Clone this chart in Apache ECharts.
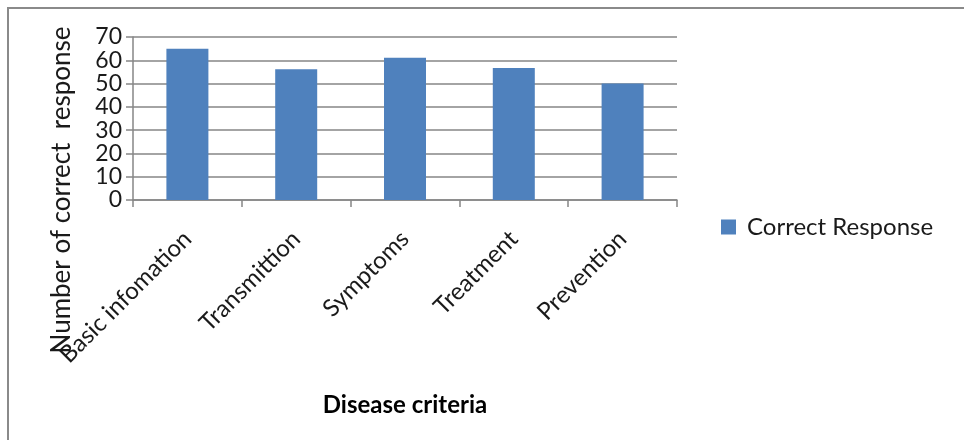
<!DOCTYPE html>
<html>
<head>
<meta charset="utf-8">
<script src="https://cdn.jsdelivr.net/npm/echarts@6/dist/echarts.min.js"></script>
<style>
  html, body { margin: 0; padding: 0; background: #ffffff; }
  #chart { width: 964px; height: 440px; }
</style>
</head>
<body>
<div id="chart"></div>
<script>
// Disease criteria and the number of correct responses for each
const categories = ['Basic infomation', 'Transmittion', 'Symptoms', 'Treatment', 'Prevention'];
const correctResponse = [65, 56.2, 61.1, 56.7, 50];
const seriesName = 'Correct Response';
const yTicks = { min: 0, max: 70, interval: 10 };

const FONT = 'Lato, "Open Sans", sans-serif';
const AXIS_GRAY = '#868686';

const chart = echarts.init(document.getElementById('chart'), null, { renderer: 'canvas' });

chart.setOption({
  backgroundColor: '#ffffff',
  animation: false,
  grid: { left: 133, right: 287, top: 37, bottom: 240, containLabel: false },
  legend: {
    data: [seriesName],
    left: 716,
    top: 210,
    icon: 'rect',
    itemWidth: 15,
    itemHeight: 15,
    itemGap: 10,
    textStyle: { fontFamily: FONT, fontSize: 24, color: '#1a1a1a', padding: [0, 0, 0, 6] }
  },
  xAxis: {
    type: 'category',
    data: categories,
    boundaryGap: true,
    name: 'Disease criteria',
    nameLocation: 'middle',
    nameGap: 193,
    nameTextStyle: { fontFamily: FONT, fontSize: 24, fontWeight: 'bold', color: '#000000' },
    axisLine: { show: true, lineStyle: { color: AXIS_GRAY, width: 1.5 } },
    axisTick: { show: true, length: 7, lineStyle: { color: AXIS_GRAY, width: 1.5 } },
    axisLabel: {
      rotate: 45,
      margin: 35,
      interval: 0,
      fontFamily: FONT,
      fontSize: 24,
      color: '#1a1a1a'
    },
    splitLine: { show: false }
  },
  yAxis: {
    type: 'value',
    min: yTicks.min,
    max: yTicks.max,
    interval: yTicks.interval,
    axisLine: { show: true, lineStyle: { color: AXIS_GRAY, width: 1.5 } },
    axisTick: { show: true, length: 7, lineStyle: { color: AXIS_GRAY, width: 1.5 } },
    axisLabel: {
      margin: 11,
      fontFamily: FONT,
      fontSize: 23,
      color: '#1a1a1a',
      showMinLabel: true,
      showMaxLabel: true
    },
    splitLine: { show: true, lineStyle: { color: AXIS_GRAY, width: 1.5 } }
  },
  series: [{
    name: seriesName,
    type: 'bar',
    data: correctResponse,
    barWidth: 42,
    itemStyle: { color: '#4F81BD' }
  }],
  graphic: [
    {
      // outer chart frame (top and left edges visible)
      type: 'polyline',
      shape: { points: [[8, 440], [8, 8], [964, 8]] },
      style: { stroke: '#8a8a8a', lineWidth: 2, fill: null }
    },
    {
      type: 'text',
      x: 62,
      y: 190,
      rotation: Math.PI / 2,
      style: {
        text: 'Number of correct  response',
        fontFamily: FONT,
        fontSize: 26,
        fill: '#1a1a1a',
        textAlign: 'center',
        textVerticalAlign: 'middle'
      }
    }
  ]
});
</script>
</body>
</html>
